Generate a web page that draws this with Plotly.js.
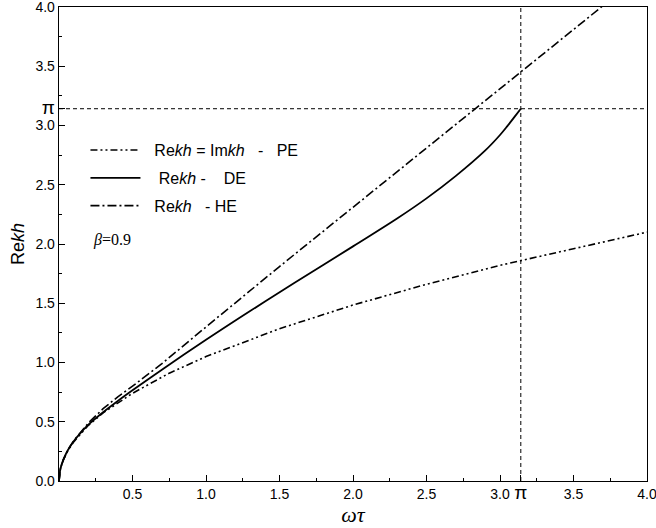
<!DOCTYPE html>
<html>
<head>
<meta charset="utf-8">
<script src="https://cdn.plot.ly/plotly-3.0.1.min.js"></script>
<style>html,body{margin:0;padding:0;background:#fff;}#chart{width:656px;height:528px;}</style>
</head>
<body>
<div id="chart"></div>
<script>
// Re kh = Im kh  - PE (parabolic equation)
const peX = [0, 0.01, 0.03, 0.06, 0.1, 0.2, 0.3, 0.5, 0.75, 1.0, 1.5, 2.0, 2.5, 3.0, 3.5, 4.0];
const peY = [0, 0.105, 0.18, 0.257, 0.33, 0.47, 0.575, 0.74, 0.91, 1.05, 1.285, 1.485, 1.66, 1.82, 1.96, 2.1];
// Re kh - DE
const deX = [0, 0.01, 0.03, 0.06, 0.1, 0.15, 0.2, 0.3, 0.4, 0.5, 0.7, 1.0, 1.3, 1.6, 2.0, 2.3, 2.5, 2.7, 2.9, 3.0, 3.05, 3.1, 3.14159];
const deY = [0, 0.105, 0.18, 0.26, 0.335, 0.41, 0.475, 0.58, 0.675, 0.765, 0.939, 1.191, 1.434, 1.67, 1.98, 2.215, 2.385, 2.575, 2.79, 2.92, 2.995, 3.075, 3.14159];
// Re kh - HE
const heX = [0, 0.01, 0.03, 0.06, 0.1, 0.15, 0.2, 0.3, 0.4, 0.5, 0.7, 1.0, 1.5, 2.0, 2.5, 3.0, 3.5, 3.7];
const heY = [0, 0.105, 0.18, 0.26, 0.34, 0.42, 0.49, 0.61, 0.71, 0.80, 0.99, 1.30, 1.81, 2.31, 2.81, 3.31, 3.81, 4.01];
// reference lines at pi
const PI = Math.PI;
const guideVX = [PI, PI];
const guideVY = [0, 4];
const guideHX = [0, 4];
const guideHY = [PI, PI];
// tick labels
const xTickVals = [0.5, 1.0, 1.5, 2.0, 2.5, 3.0, PI, 3.5, 4.0];
const xTickText = ["0.5", "1.0", "1.5", "2.0", "2.5", "3.0", "<span style='font-size:19px'>π</span>", "3.5", "4.0"];
const yTickVals = [0, 0.5, 1.0, 1.5, 2.0, 2.5, 3.0, PI, 3.5, 4.0];
const yTickText = ["0.0", "0.5", "1.0", "1.5", "2.0", "2.5", "3.0", "<span style='font-size:19px'>π</span>", "3.5", "4.0"];
// legend labels
const S = '\u00A0';
const peName = S + S + 'Re<i>kh</i> = Im<i>kh</i>' + S + S + S + '-' + S + S + S + 'PE';
const deName = S + S + S + 'Re<i>kh</i>' + S + '-' + S + S + S + S + 'DE';
const heName = S + S + 'Re<i>kh</i>' + S + S + S + '-' + S + 'HE';

const traces = [
  {x: peX, y: peY, mode: 'lines', name: peName, legendgroup: 'a',
   line: {color: '#000', width: 1.6, dash: '7px,3px,2px,3px,2px,3px'}},
  {x: deX, y: deY, mode: 'lines', name: deName, legendgroup: 'b',
   line: {color: '#000', width: 1.8, shape: 'spline', smoothing: 1}},
  {x: heX, y: heY, mode: 'lines', name: heName, legendgroup: 'c',
   line: {color: '#000', width: 1.6, dash: '9px,3px,2px,3px'}},
  {x: guideVX, y: guideVY, mode: 'lines', showlegend: false, hoverinfo: 'skip',
   line: {color: '#000', width: 1, dash: '4px,3px'}},
  {x: guideHX, y: guideHY, mode: 'lines', showlegend: false, hoverinfo: 'skip',
   line: {color: '#000', width: 1, dash: '4px,3px'}}
];

const axisCommon = {
  range: [0, 4], showgrid: false, zeroline: false,
  showline: true, linecolor: '#000', linewidth: 1.3, mirror: true,
  ticks: 'inside', ticklen: 6, tickwidth: 1, tickcolor: '#000',
  tickmode: 'array', ticklabeloverflow: 'allow',
  tickfont: {family: 'Liberation Sans, Arial, sans-serif', size: 14, color: '#000'},
  minor: {tickmode: 'linear', tick0: 0, dtick: 0.25, ticks: 'inside', ticklen: 3, tickcolor: '#000', showgrid: false}
};

const layout = {
  width: 656, height: 528,
  margin: {l: 59, r: 9, t: 7, b: 47},
  paper_bgcolor: '#fff', plot_bgcolor: '#fff',
  font: {family: 'Liberation Sans, Arial, sans-serif', color: '#000'},
  xaxis: Object.assign({}, axisCommon, {
    tickvals: xTickVals, ticktext: xTickText,
    title: {text: '<i>ωτ</i>', font: {family: 'Liberation Serif, Times New Roman, serif', size: 22}, standoff: 2}
  }),
  yaxis: Object.assign({}, axisCommon, {
    tickvals: yTickVals, ticktext: yTickText,
    title: {text: 'Re<i>kh</i>', font: {family: 'Liberation Sans, Arial, sans-serif', size: 18}, standoff: 6}
  }),
  legend: {
    x: 0.045, y: 0.734, xanchor: 'left', yanchor: 'top',
    bgcolor: 'rgba(0,0,0,0)', borderwidth: 0,
    font: {family: 'Liberation Sans, Arial, sans-serif', size: 16, color: '#000'},
    itemwidth: 50, traceorder: 'grouped', tracegroupgap: 4
  },
  annotations: [{
    x: 0.22, y: 2.03, xref: 'x', yref: 'y', xanchor: 'left', yanchor: 'middle',
    text: '<i>β</i>=0.9', showarrow: false,
    font: {family: 'Liberation Serif, Times New Roman, serif', size: 16, color: '#000'}
  }],
  showlegend: true
};

Plotly.newPlot('chart', traces, layout, {displayModeBar: false, staticPlot: true});
</script>
</body>
</html>
